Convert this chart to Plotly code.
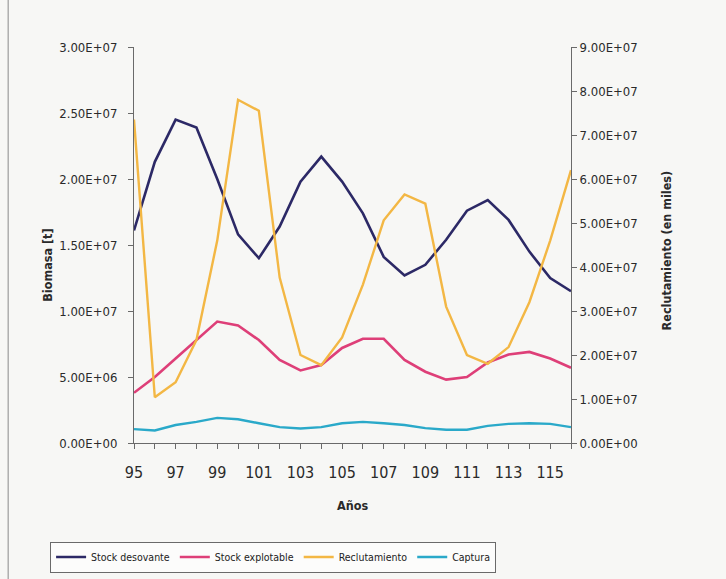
#!/usr/bin/python3

import plotly.graph_objs as go

# years of the series (axis shows 95..116)
years = list(range(95, 117))

# biomass in tonnes (left axis)
stockDesovante = [1.61e7, 2.13e7, 2.45e7, 2.39e7, 2.00e7, 1.58e7, 1.40e7, 1.64e7, 1.98e7, 2.17e7, 1.98e7,
                  1.74e7, 1.41e7, 1.27e7, 1.35e7, 1.54e7, 1.76e7, 1.84e7, 1.69e7, 1.45e7, 1.25e7, 1.15e7]
stockExplotable = [3.8e6, 5.0e6, 6.4e6, 7.8e6, 9.2e6, 8.9e6, 7.8e6, 6.3e6, 5.5e6, 5.9e6, 7.2e6,
                   7.9e6, 7.9e6, 6.3e6, 5.4e6, 4.8e6, 5.0e6, 6.1e6, 6.7e6, 6.9e6, 6.4e6, 5.7e6]
captura = [1.05e6, 0.95e6, 1.36e6, 1.6e6, 1.9e6, 1.8e6, 1.5e6, 1.2e6, 1.1e6, 1.2e6, 1.5e6,
           1.6e6, 1.5e6, 1.36e6, 1.13e6, 1.0e6, 1.0e6, 1.3e6, 1.45e6, 1.5e6, 1.45e6, 1.2e6]

# recruitment in thousands (right axis)
reclutamiento = [7.35e7, 1.04e7, 1.38e7, 2.34e7, 4.6e7, 7.8e7, 7.55e7, 3.76e7, 2.0e7, 1.77e7, 2.4e7,
                 3.6e7, 5.06e7, 5.65e7, 5.44e7, 3.1e7, 2.0e7, 1.8e7, 2.18e7, 3.2e7, 4.6e7, 6.2e7]

xTickVals = years
xTickText = [str(y) if y % 2 == 1 else '' for y in years]

leftTickVals = [0, 5e6, 1e7, 1.5e7, 2e7, 2.5e7, 3e7]
leftTickText = ['0.00E+00', '5.00E+06', '1.00E+07', '1.50E+07', '2.00E+07', '2.50E+07', '3.00E+07']
rightTickVals = [0, 1e7, 2e7, 3e7, 4e7, 5e7, 6e7, 7e7, 8e7, 9e7]
rightTickText = ['0.00E+00', '1.00E+07', '2.00E+07', '3.00E+07', '4.00E+07',
                 '5.00E+07', '6.00E+07', '7.00E+07', '8.00E+07', '9.00E+07']

font = 'DejaVu Sans Condensed, Liberation Sans Narrow, sans-serif'
textColor = '#2a2a2a'
axisColor = '#6a6a6a'
bg = '#f7f7f5'

fig = go.Figure()

fig.add_trace(go.Scatter(name='Stock desovante', x=years, y=stockDesovante, mode='lines',
                         line=dict(color='#2c2966', width=2.6)))
fig.add_trace(go.Scatter(name='Stock explotable', x=years, y=stockExplotable, mode='lines',
                         line=dict(color='#de3f78', width=2.6)))
fig.add_trace(go.Scatter(name='Reclutamiento', x=years, y=reclutamiento, mode='lines', yaxis='y2',
                         line=dict(color='#f3b744', width=2.4)))
fig.add_trace(go.Scatter(name='Captura', x=years, y=captura, mode='lines',
                         line=dict(color='#2aa9c9', width=2.4)))

fig.update_layout(
    width=726,
    height=579,
    margin=dict(l=134, r=155, t=47, b=136, autoexpand=False),
    paper_bgcolor=bg,
    plot_bgcolor=bg,
    font=dict(family=font, size=13, color=textColor),
    showlegend=True,
    legend=dict(
        orientation='h',
        x=-0.192, y=-0.288,
        xanchor='left', yanchor='middle',
        bgcolor='rgba(255,255,255,0.6)',
        bordercolor='#6a6a6a',
        borderwidth=1,
        font=dict(family=font, size=10.5, color='#222'),
        itemwidth=30,
        tracegroupgap=0,
        traceorder='normal',
    ),
    xaxis=dict(
        range=[95, 116],
        tickmode='array',
        tickvals=xTickVals,
        ticktext=xTickText,
        ticks='outside',
        ticklen=5,
        tickcolor=axisColor,
        showline=True,
        linecolor=axisColor,
        linewidth=1,
        showgrid=False,
        zeroline=False,
        automargin=False,
        ticklabelstandoff=10,
        tickfont=dict(family=font, size=16, color=textColor),
    ),
    yaxis=dict(
        range=[0, 3e7],
        tickmode='array',
        tickvals=leftTickVals,
        ticktext=leftTickText,
        ticks='outside',
        ticklen=5,
        tickcolor=axisColor,
        showline=True,
        linecolor=axisColor,
        linewidth=1,
        showgrid=False,
        zeroline=False,
        automargin=False,
        ticklabelstandoff=8,
        tickfont=dict(family=font, size=13, color=textColor),
    ),
    yaxis2=dict(
        range=[0, 9e7],
        overlaying='y',
        side='right',
        tickmode='array',
        tickvals=rightTickVals,
        ticktext=rightTickText,
        ticks='outside',
        ticklen=5,
        tickcolor=axisColor,
        showline=True,
        linecolor=axisColor,
        linewidth=1,
        showgrid=False,
        zeroline=False,
        automargin=False,
        tickfont=dict(family=font, size=13, color=textColor),
    ),
    annotations=[
        dict(text='<b>Biomasa [t]</b>', xref='paper', yref='paper', x=-0.197, y=0.45,
             xanchor='center', yanchor='middle',
             textangle=-90, showarrow=False, font=dict(family=font, size=12.5, color=textColor)),
        dict(text='<b>Reclutamiento (en miles)</b>', xref='paper', yref='paper', x=1.218, y=0.487,
             xanchor='center', yanchor='middle',
             textangle=-90, showarrow=False, font=dict(family=font, size=12.5, color=textColor)),
        dict(text='<b>Años</b>', xref='paper', yref='paper', x=0.499, y=-0.157,
             xanchor='center', yanchor='middle',
             showarrow=False, font=dict(family=font, size=12.5, color=textColor)),
    ],
    shapes=[
        dict(type='line', xref='paper', yref='paper', x0=-0.288, x1=-0.288, y0=-0.35, y1=1.12,
             line=dict(color='#8a8a8a', width=1)),
    ],
)

fig.write_html("out.html", config={'displayModeBar': False},
               post_script="document.body.style.margin='0';document.body.style.background='%s';" % bg)
